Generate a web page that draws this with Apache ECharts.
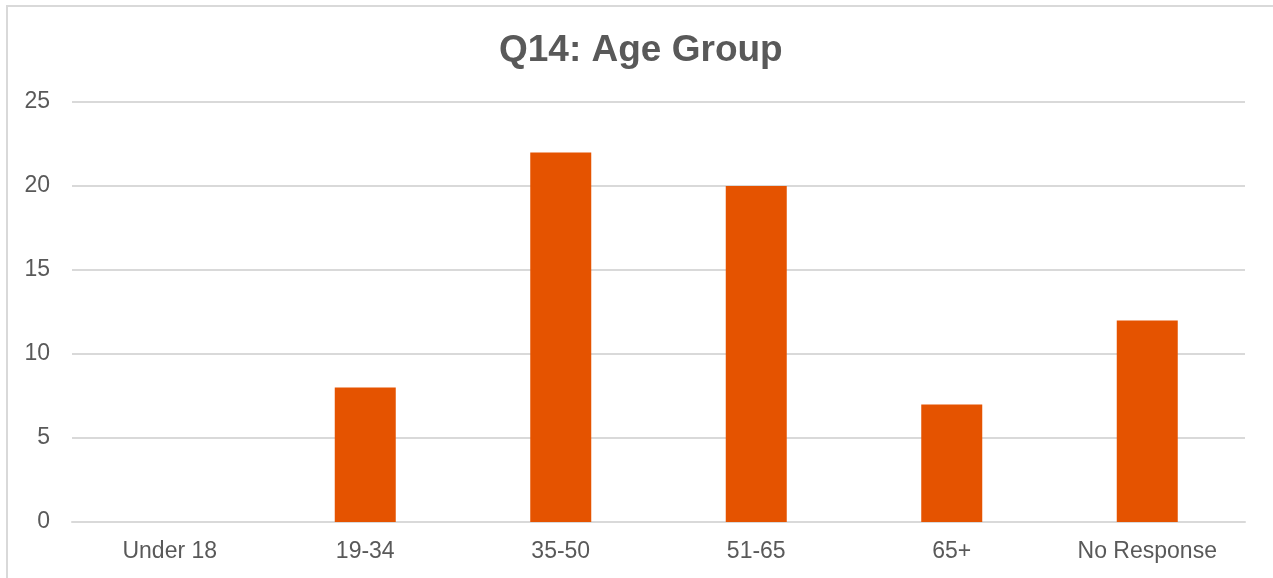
<!DOCTYPE html>
<html>
<head>
<meta charset="utf-8">
<style>
  html, body { margin: 0; padding: 0; background: #fff; }
  #chart-container { width: 1273px; height: 578px; }
</style>
<script src="https://cdn.jsdelivr.net/npm/echarts@6/dist/echarts.min.js"></script>
</head>
<body>
<div id="chart-container"></div>
<script>
var categories = ['Under 18', '19-34', '35-50', '51-65', '65+', 'No Response'];
var counts = [0, 8, 22, 20, 7, 12];
var yTicks = [0, 5, 10, 15, 20, 25];

var dom = document.getElementById('chart-container');
var myChart = echarts.init(dom, null, { renderer: 'canvas' });

var option = {
  backgroundColor: '#fff',
  animation: false,
  title: {
    text: 'Q14: Age Group',
    left: 494,
    top: 27,
    textStyle: {
      fontFamily: 'Liberation Sans, Arial, sans-serif',
      fontSize: 37,
      fontWeight: 'bold',
      color: '#595959'
    }
  },
  graphic: [
    {
      type: 'rect',
      shape: { x: 7, y: 6, width: 1300, height: 620 },
      style: { fill: 'none', stroke: '#d9d9d9', lineWidth: 2 },
      silent: true
    }
  ],
  grid: { left: 72, right: 28, top: 102, bottom: 56 },
  xAxis: {
    type: 'category',
    data: categories,
    axisTick: { show: false },
    axisLine: { lineStyle: { color: '#d9d9d9', width: 2 } },
    axisLabel: {
      margin: 18,
      fontFamily: 'Liberation Sans, Arial, sans-serif',
      fontSize: 23,
      color: '#595959'
    }
  },
  yAxis: {
    type: 'value',
    min: yTicks[0],
    max: yTicks[yTicks.length - 1],
    interval: 5,
    axisLine: { show: false },
    axisTick: { show: false },
    splitLine: { lineStyle: { color: '#d9d9d9', width: 2 } },
    axisLabel: {
      margin: 22,
      fontFamily: 'Liberation Sans, Arial, sans-serif',
      fontSize: 23,
      color: '#595959'
    }
  },
  series: [
    {
      type: 'bar',
      data: counts,
      barWidth: 61,
      itemStyle: { color: '#E55300' }
    }
  ]
};

myChart.setOption(option);
window.addEventListener('resize', myChart.resize);
</script>
</body>
</html>
